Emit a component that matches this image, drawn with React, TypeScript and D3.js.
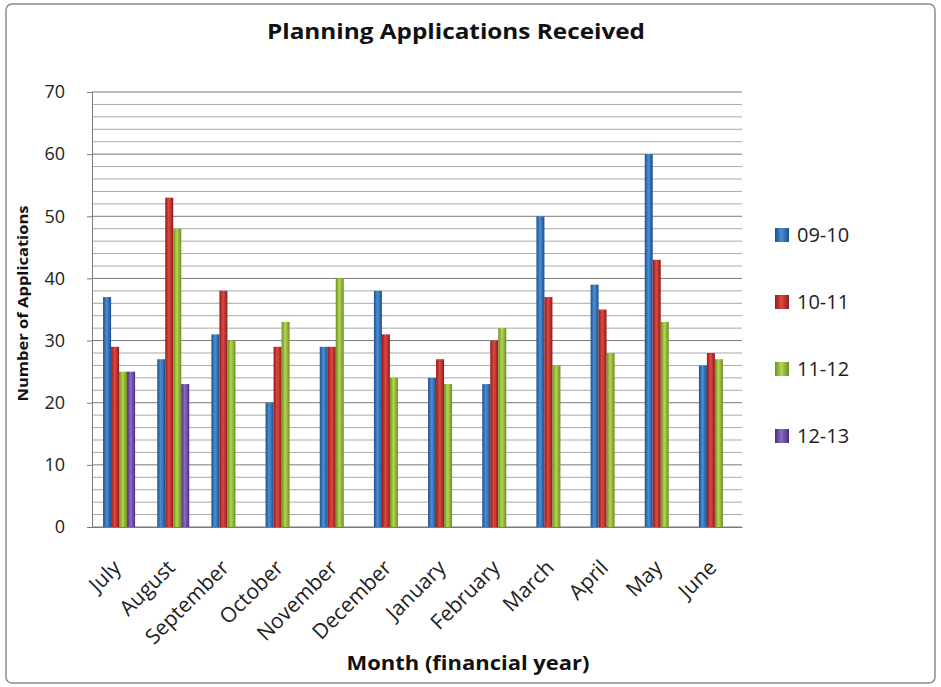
import { useEffect, useRef } from 'react';
import * as d3 from 'd3';

const months = [
  'July', 'August', 'September', 'October', 'November', 'December',
  'January', 'February', 'March', 'April', 'May', 'June',
];
const seriesNames = ['09-10', '10-11', '11-12', '12-13'];
const fy0910 = [37, 27, 31, 20, 29, 38, 24, 23, 50, 39, 60, 26];
const fy1011 = [29, 53, 38, 29, 29, 31, 27, 30, 37, 35, 43, 28];
const fy1112 = [25, 48, 30, 33, 40, 24, 23, 32, 26, 28, 33, 27];
const fy1213 = [25, 23, null, null, null, null, null, null, null, null, null, null];
const yTicks = [0, 10, 20, 30, 40, 50, 60, 70];

const colors = [
  ['#1d4f8c', '#4a8fd6'],
  ['#8e1c1c', '#e0483f'],
  ['#6c8e24', '#b5d64f'],
  ['#4d2d7c', '#8d6cc4'],
];

function App() {
  const svgRef = useRef<SVGSVGElement | null>(null);
  const width = 941;
  const height = 687;
  const margin = { top: 92, right: 199, bottom: 160, left: 92 };

  useEffect(() => {
    const svg = d3.select(svgRef.current);
    svg.selectAll('*').remove();
    const font = "'Open Sans', 'Noto Sans', sans-serif";
    const series = [fy0910, fy1011, fy1112, fy1213];

    const defs = svg.append('defs');
    colors.forEach((c, i) => {
      const g = defs.append('linearGradient').attr('id', `grad${i}`).attr('x1', 0).attr('x2', 1).attr('y1', 0).attr('y2', 0);
      g.append('stop').attr('offset', '0%').attr('stop-color', c[0]);
      g.append('stop').attr('offset', '45%').attr('stop-color', c[1]);
      g.append('stop').attr('offset', '100%').attr('stop-color', c[0]);
    });

    svg.append('rect')
      .attr('x', 6).attr('y', 4).attr('width', width - 12).attr('height', height - 8)
      .attr('rx', 6).attr('fill', '#fff').attr('stroke', '#8a8a8a').attr('stroke-width', 1.5);

    const x = d3.scaleBand().domain(months).range([margin.left, width - margin.right]);
    const y = d3.scaleLinear().domain([0, 70]).range([height - margin.bottom, margin.top]);
    const sub = d3.scaleBand().domain(seriesNames).range([0, 32]);

    // gridlines
    const grid = svg.append('g');
    d3.range(0, 71, 2).forEach((v) => {
      grid.append('line')
        .attr('x1', margin.left).attr('x2', width - margin.right)
        .attr('y1', y(v)).attr('y2', y(v))
        .attr('stroke', v % 10 === 0 ? '#7a7a7a' : '#a8a8a8')
        .attr('stroke-width', 1);
    });

    // bars
    series.forEach((vals, si) => {
      svg.append('g')
        .selectAll('rect')
        .data(vals.map((v, i) => ({ v, m: months[i] })).filter((d) => d.v !== null))
        .join('rect')
        .attr('x', (d) => (x(d.m) as number) + x.bandwidth() / 2 - 16 + (sub(seriesNames[si]) as number))
        .attr('y', (d) => y(d.v as number))
        .attr('width', sub.bandwidth())
        .attr('height', (d) => y(0) - y(d.v as number))
        .attr('fill', `url(#grad${si})`);
    });

    // y axis
    const yAxis = svg.append('g')
      .attr('transform', `translate(${margin.left},0)`)
      .call(d3.axisLeft(y).tickValues(yTicks).tickSize(5).tickPadding(22));
    yAxis.select('.domain').attr('stroke', '#7a7a7a');
    yAxis.selectAll('.tick line').attr('stroke', '#7a7a7a');
    yAxis.selectAll('.tick text').attr('font-family', font).attr('font-size', 18).attr('fill', '#222');

    // x axis
    const xAxis = svg.append('g')
      .attr('transform', `translate(0,${y(0)})`)
      .call(d3.axisBottom(x).tickSize(0).tickPadding(0));
    xAxis.select('.domain').attr('stroke', '#7a7a7a');
    xAxis.selectAll('.tick text')
      .attr('font-family', font).attr('font-size', 21).attr('fill', '#222')
      .attr('text-anchor', 'end')
      .attr('dy', 0)
      .attr('transform', 'translate(3,42) rotate(-45)');

    // titles
    svg.append('text')
      .attr('x', 456).attr('y', 39).attr('text-anchor', 'middle')
      .attr('font-family', font).attr('font-weight', 'bold').attr('font-size', 22)
      .attr('textLength', 378).attr('lengthAdjust', 'spacingAndGlyphs')
      .attr('fill', '#111').text('Planning Applications Received');
    svg.append('text')
      .attr('x', 468).attr('y', 670).attr('text-anchor', 'middle')
      .attr('font-family', font).attr('font-weight', 'bold').attr('font-size', 20)
      .attr('textLength', 243).attr('lengthAdjust', 'spacingAndGlyphs')
      .attr('fill', '#111').text('Month (financial year)');
    svg.append('text')
      .attr('transform', `translate(28,${y(35) - 6}) rotate(-90)`).attr('text-anchor', 'middle')
      .attr('font-family', font).attr('font-weight', 'bold').attr('font-size', 15)
      .attr('textLength', 196).attr('lengthAdjust', 'spacingAndGlyphs')
      .attr('fill', '#111').text('Number of Applications');

    // legend
    const legend = svg.append('g').attr('transform', 'translate(775,235)');
    seriesNames.forEach((name, i) => {
      const g = legend.append('g').attr('transform', `translate(0,${i * 67})`);
      g.append('rect').attr('x', 0).attr('y', -7).attr('width', 14).attr('height', 14)
        .attr('fill', `url(#grad${i})`);
      g.append('text').attr('x', 22).attr('y', 7)
        .attr('font-family', font).attr('font-size', 20).attr('fill', '#222').text(name);
    });
  }, []);

  return (
    <svg
      ref={svgRef}
      width={width}
      height={height}
      style={{ position: 'absolute', left: 0, top: 0, background: '#fff' }}
    />
  );
}

export default App;
